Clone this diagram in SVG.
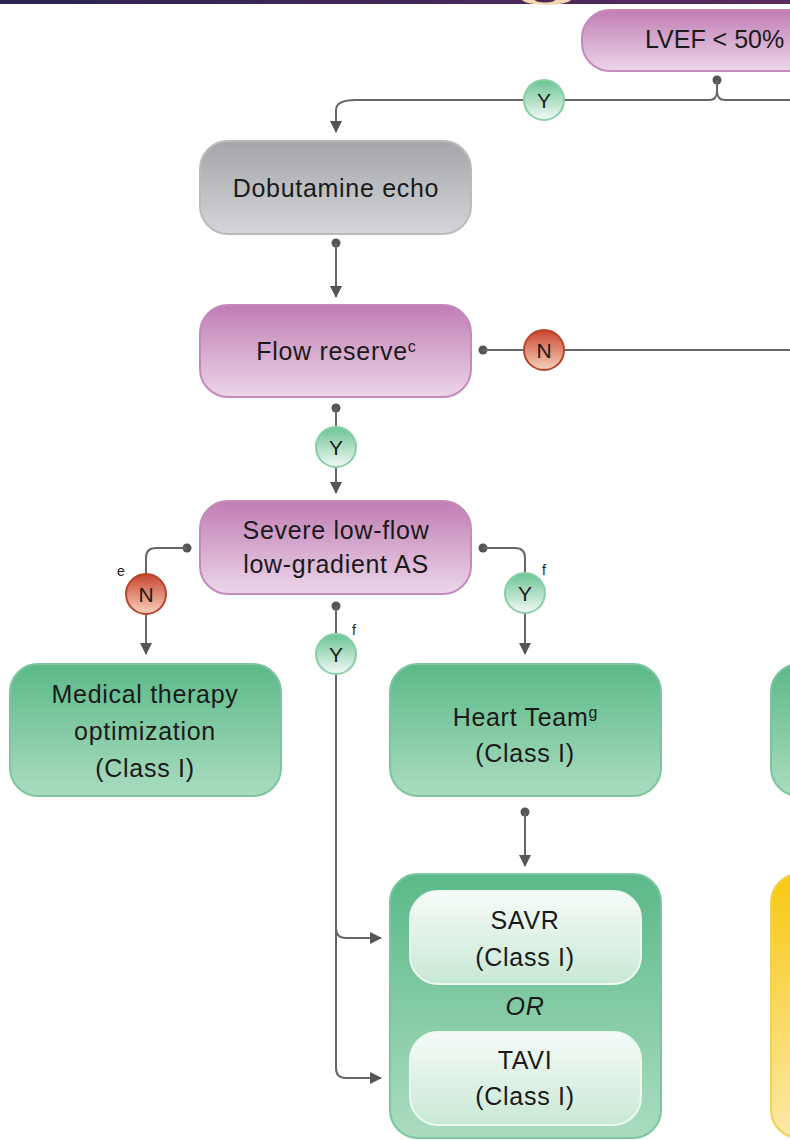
<svg xmlns="http://www.w3.org/2000/svg" width="790" height="1140" viewBox="0 0 790 1140">
<defs>
<linearGradient id="band" x1="0" y1="0" x2="1" y2="0"><stop offset="0" stop-color="#2b2450"/><stop offset="1" stop-color="#5b2a5f"/></linearGradient>
<linearGradient id="pink" x1="0" y1="0" x2="0" y2="1"><stop offset="0" stop-color="#c07db4"/><stop offset="1" stop-color="#ecd6e9"/></linearGradient>
<linearGradient id="gray" x1="0" y1="0" x2="0" y2="1"><stop offset="0" stop-color="#a4a6a9"/><stop offset="1" stop-color="#d4d5d8"/></linearGradient>
<linearGradient id="green" x1="0" y1="0" x2="0" y2="1"><stop offset="0" stop-color="#5bb988"/><stop offset="1" stop-color="#abdcc0"/></linearGradient>
<linearGradient id="lightg" x1="0" y1="0" x2="0" y2="1"><stop offset="0" stop-color="#f6fbf8"/><stop offset="1" stop-color="#c9e8d5"/></linearGradient>
<linearGradient id="gold" x1="0" y1="0" x2="0" y2="1"><stop offset="0" stop-color="#f8c812"/><stop offset="1" stop-color="#fce8a8"/></linearGradient>
<linearGradient id="yb" x1="0" y1="0" x2="0" y2="1"><stop offset="0" stop-color="#6cc394"/><stop offset="1" stop-color="#f2faf5"/></linearGradient>
<linearGradient id="nb" x1="0" y1="0" x2="0" y2="1"><stop offset="0" stop-color="#c9442e"/><stop offset="1" stop-color="#f7d2bd"/></linearGradient>
<marker id="arr" markerUnits="userSpaceOnUse" markerWidth="12" markerHeight="12" refX="11" refY="6" orient="auto"><path d="M0,0 L12,6 L0,12 z" fill="#555"/></marker>
</defs>
<style>
.t{font-family:"Liberation Sans",Arial,sans-serif;font-size:25px;letter-spacing:0.7px;fill:#1a1a1a;text-anchor:middle}
.sup{font-size:16px;letter-spacing:0}
.lbl{font-family:"Liberation Sans",Arial,sans-serif;font-size:14px;fill:#1a1a1a;text-anchor:middle}
.bt{font-family:"Liberation Sans",Arial,sans-serif;font-size:21px;fill:#1a1a1a;text-anchor:middle}
.ln{fill:none;stroke:#666;stroke-width:2}
.dot{fill:#555}
.pk{fill:url(#pink);stroke:#c48bba;stroke-width:2}
.gy{fill:url(#gray);stroke:#b9bbbe;stroke-width:2}
.gr{fill:url(#green);stroke:#7cc59e;stroke-width:2}
.lg{fill:url(#lightg);stroke:#eef8f2;stroke-width:2}
.yc{fill:url(#yb);stroke:#86cfa5;stroke-width:2}
.nc{fill:url(#nb);stroke:#b8432c;stroke-width:2}
</style>
<rect x="0" y="0" width="790" height="1140" fill="#ffffff"/>
<g id="topband">
<rect x="0" y="0" width="790" height="4" fill="url(#band)"/>
<path d="M522,0 A25,6 0 0 0 571,0 Z" fill="#f5d6ab"/>
<path d="M535,0 A10,2.5 0 0 0 555,0 Z" fill="#4a2555"/>
</g>
<g id="connectors">
<circle class="dot" cx="717" cy="80" r="4.5"/>
<path class="ln" d="M717,80 V91 Q717,100 709,100 H356 Q336,100 336,110 V132" marker-end="url(#arr)"/>
<path class="ln" d="M717,91 Q717,100 725,100 H790"/>
<circle class="dot" cx="336" cy="243" r="4.5"/>
<path class="ln" d="M336,243 V297" marker-end="url(#arr)"/>
<circle class="dot" cx="483" cy="350" r="4.5"/>
<path class="ln" d="M483,350 H790"/>
<circle class="dot" cx="336" cy="408" r="4.5"/>
<path class="ln" d="M336,408 V493" marker-end="url(#arr)"/>
<circle class="dot" cx="187" cy="548" r="4.5"/>
<path class="ln" d="M187,548 H156 Q146,548 146,558 V654" marker-end="url(#arr)"/>
<circle class="dot" cx="483" cy="548" r="4.5"/>
<path class="ln" d="M483,548 H515 Q525,548 525,558 V654" marker-end="url(#arr)"/>
<circle class="dot" cx="336" cy="606" r="4.5"/>
<path class="ln" d="M336,606 V928 Q336,938 346,938 H381" marker-end="url(#arr)"/>
<path class="ln" d="M336,928 V1068 Q336,1078 346,1078 H381" marker-end="url(#arr)"/>
<circle class="dot" cx="525" cy="812" r="4.5"/>
<path class="ln" d="M525,812 V866" marker-end="url(#arr)"/>
</g>
<g id="badges">
<g id="badge-y1"><circle class="yc" cx="544" cy="100" r="20"/><text class="bt" x="544" y="107.5">Y</text></g>
<g id="badge-n1"><circle class="nc" cx="544" cy="350" r="20"/><text class="bt" x="544" y="357.5">N</text></g>
<g id="badge-y2"><circle class="yc" cx="336" cy="447" r="20"/><text class="bt" x="336" y="454.5">Y</text></g>
<g id="badge-n2"><circle class="nc" cx="146" cy="594" r="20"/><text class="bt" x="146" y="601.5">N</text><text class="lbl" x="121" y="576">e</text></g>
<g id="badge-y3"><circle class="yc" cx="525" cy="593" r="20"/><text class="bt" x="525" y="600.5">Y</text><text class="lbl" x="544" y="575">f</text></g>
<g id="badge-y4"><circle class="yc" cx="336" cy="654" r="20"/><text class="bt" x="336" y="661.5">Y</text><text class="lbl" x="354" y="635">f</text></g>
</g>
<g id="lvef"><rect class="pk" x="582" y="10" width="260" height="61" rx="28"/><text class="t" x="645" y="48" style="text-anchor:start;letter-spacing:0">LVEF &lt; 50%</text></g>
<g id="dobutamine"><rect class="gy" x="200" y="141" width="271" height="93" rx="28"/><text class="t" x="336" y="197">Dobutamine echo</text></g>
<g id="flowreserve"><rect class="pk" x="200" y="305" width="271" height="92" rx="28"/><text class="t" x="336" y="360">Flow reserve<tspan class="sup" dy="-8">c</tspan></text></g>
<g id="severe"><rect class="pk" x="200" y="501" width="271" height="93" rx="28"/><text class="t" x="336" y="539">Severe low-flow</text><text class="t" x="336" y="573">low-gradient AS</text></g>
<g id="medical"><rect class="gr" x="10" y="664" width="271" height="132" rx="28"/><text class="t" x="145" y="703">Medical therapy</text><text class="t" x="145" y="740">optimization</text><text class="t" x="145" y="777">(Class I)</text></g>
<g id="heartteam"><rect class="gr" x="390" y="664" width="271" height="132" rx="28"/><text class="t" x="525" y="726">Heart Team<tspan class="sup" dy="-8">g</tspan></text><text class="t" x="525" y="762">(Class I)</text></g>
<g id="rightgreen"><rect class="gr" x="771" y="664" width="80" height="132" rx="28"/></g>
<g id="intervention">
<rect class="gr" x="390" y="874" width="271" height="264" rx="28"/>
<rect class="lg" x="410" y="891" width="231" height="93" rx="28"/>
<text class="t" x="525" y="929">SAVR</text><text class="t" x="525" y="966">(Class I)</text>
<text class="t" x="525" y="1015" style="font-style:italic">OR</text>
<rect class="lg" x="410" y="1032" width="231" height="93" rx="28"/>
<text class="t" x="525" y="1069">TAVI</text><text class="t" x="525" y="1105">(Class I)</text>
</g>
<g id="yellow"><rect x="771" y="874" width="80" height="264" rx="28" fill="url(#gold)" stroke="#f2d052" stroke-width="2"/></g>
</svg>
